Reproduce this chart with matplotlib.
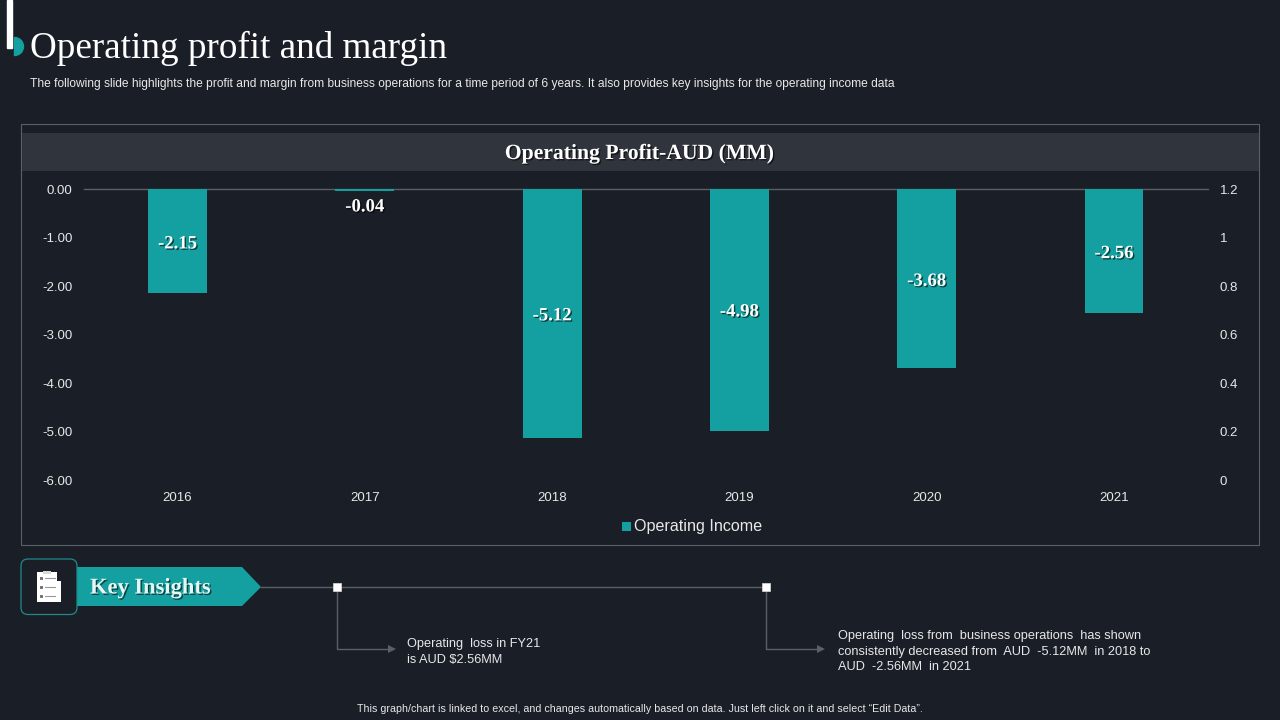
import numpy as np
import matplotlib
matplotlib.use("Agg")
import matplotlib.pyplot as plt
import matplotlib.patheffects as pe
from matplotlib.patches import Rectangle, Polygon, FancyBboxPatch, Wedge

years = ["2016", "2017", "2018", "2019", "2020", "2021"]
operating_income = [-2.15, -0.04, -5.12, -4.98, -3.68, -2.56]
left_ticks = [0, -1, -2, -3, -4, -5, -6]
right_ticks = [0, 0.2, 0.4, 0.6, 0.8, 1, 1.2]
right_labels = ["0", "0.2", "0.4", "0.6", "0.8", "1", "1.2"]
# label heights in value units, they sit mid bar on the slide
label_pos = [-1.13, -0.37, -2.61, -2.53, -1.90, -1.33]

BG = "#1a1e27"
TEAL = "#14a0a0"
LINE = "#5b5f66"
SANS = "Liberation Sans"
SERIF = "Liberation Serif"

W, H = 1280, 720
fig = plt.figure(figsize=(W / 100, H / 100), dpi=100, facecolor=BG)

# overlay in pixel coords for the slide furniture
bg = fig.add_axes([0, 0, 1, 1], zorder=0)
bg.set_xlim(0, W)
bg.set_ylim(H, 0)
bg.axis("off")

shadow = [pe.withSimplePatchShadow(offset=(1, -1), shadow_rgbFace="#000000", alpha=0.6)]

# title block
bg.add_patch(Rectangle((7, 0), 5, 48, color="white", zorder=3))
bg.add_patch(Wedge((14.5, 46.5), 9, -90, 90, color=TEAL, zorder=2))
bg.text(30, 48, "Operating profit and margin", color="white", fontsize=26.75,
        family=SERIF, va="center", ha="left")
bg.text(30, 83.5, "The following slide highlights the profit and margin from business operations "
        "for a time period of 6 years. It also provides key insights for the operating income data",
        color="#e8e8e8", fontsize=8.64, family=SANS, va="center", ha="left")

# chart frame and header band
bg.add_patch(Rectangle((21, 124), 1238, 421, fill=False, edgecolor=LINE, lw=0.8))
bg.add_patch(Rectangle((22, 133), 1237, 38, color="#2f343d", lw=0))
bg.text(639, 154, "Operating Profit-AUD (MM)", color="white", fontsize=15.6, weight="bold",
        family=SERIF, va="center", ha="center", path_effects=shadow)

# chart
ax = fig.add_axes([83.85 / W, 1 - 480.5 / H, 1123.8 / W, 291.5 / H], zorder=2)
ax.patch.set_alpha(0)
x = np.arange(len(years))
ax.bar(x, operating_income, width=0.315, color=TEAL, zorder=3)
ax.set_xlim(-0.5, 5.5)
ax.set_ylim(-6, 0)
ax.set_yticks(left_ticks)
ax.set_yticklabels([f"{v:.2f}" for v in left_ticks])
ax.set_xticks(x)
ax.set_xticklabels(years)
ax.tick_params(axis="both", length=0, colors="#e8e8e8", labelsize=9.5)
ax.tick_params(axis="y", pad=8)
ax.tick_params(axis="x", pad=8.5)
for lab in ax.get_xticklabels() + ax.get_yticklabels():
    lab.set_family(SANS)
for name, sp in ax.spines.items():
    sp.set_visible(name == "top")
# axis line goes under the bars so the thin 2017 bar still shows
ax.spines["top"].set_color(LINE)
ax.spines["top"].set_linewidth(1)
ax.spines["top"].set_zorder(1)

for xi, val, pos in zip(x, operating_income, label_pos):
    ax.text(xi, pos, f"{val:.2f}", color="white", fontsize=13.5, weight="bold", family=SERIF,
            ha="center", va="center", zorder=4, path_effects=shadow)

ax2 = ax.twinx()
ax2.set_ylim(0, 1.2)
ax2.set_yticks(right_ticks)
ax2.set_yticklabels(right_labels)
ax2.tick_params(axis="y", length=0, colors="#e8e8e8", labelsize=9.5, pad=8.6)
for lab in ax2.get_yticklabels():
    lab.set_family(SANS)
for sp in ax2.spines.values():
    sp.set_visible(False)

# legend
bg.add_patch(Rectangle((622, 522), 9, 9, color=TEAL, lw=0))
bg.text(634, 526, "Operating Income", color="#e8e8e8", fontsize=11.6, family=SANS, va="center", ha="left")

# key insights banner
bg.add_patch(Polygon([(77, 567), (242, 567), (261, 587), (242, 606), (77, 606)], color=TEAL, lw=0))
bg.add_patch(FancyBboxPatch((26, 564), 46, 45.5, boxstyle="round,pad=5,rounding_size=7",
                            facecolor=BG, edgecolor="#1f8a8c", lw=0.9, zorder=3))
bg.text(90, 588.5, "Key Insights", color="#e4f7f5", fontsize=16.2, weight="bold", family=SERIF,
        va="center", ha="left", path_effects=shadow)

# clipboard icon
bg.add_patch(Rectangle((57, 581), 4, 21, color="white", lw=0, zorder=4))
bg.add_patch(Rectangle((37, 572), 20, 30, color="white", lw=0, zorder=4))
bg.add_patch(Rectangle((43, 571), 8, 3, color="#d8d8d8", lw=0, zorder=5))
for yy in [578, 587, 596]:
    bg.add_patch(Rectangle((40, yy - 1.5), 3, 3, color="#777777", lw=0, zorder=5))
    bg.plot([45, 55], [yy, yy], color="#999999", lw=0.8, zorder=5)

# connector lines
bg.plot([261, 766], [587, 587], color=LINE, lw=1, zorder=1)
for mx in [337, 766]:
    bg.add_patch(Rectangle((mx - 4, 583), 8, 8, facecolor="white", edgecolor="#dddddd", lw=0.5, zorder=3))
bg.plot([337, 337, 390], [587, 649, 649], color=LINE, lw=1, zorder=1)
bg.plot([766, 766, 820], [587, 649, 649], color=LINE, lw=1, zorder=1)
for tip in [396, 825]:
    bg.add_patch(Polygon([(tip - 8, 645), (tip, 649), (tip - 8, 653)], color=LINE, lw=0))

# insight text
for yy, s in [(643.5, "Operating  loss in FY21"), (659.5, "is AUD $2.56MM")]:
    bg.text(407, yy, s, color="#e8e8e8", fontsize=9.23, family=SANS, va="center", ha="left")
for yy, s in [(635.5, "Operating  loss from  business operations  has shown"),
              (651.5, "consistently decreased from  AUD  -5.12MM  in 2018 to"),
              (667.5, "AUD  -2.56MM  in 2021")]:
    bg.text(838, yy, s, color="#e8e8e8", fontsize=9.23, family=SANS, va="center", ha="left")

# footer
bg.text(639.5, 708.5, "This graph/chart is linked to excel, and changes automatically based on data. "
        "Just left click on it and select \u201cEdit Data\u201d.",
        color="#e8e8e8", fontsize=7.66, family=SANS, va="center", ha="center")

fig.savefig("out.png", dpi=100, facecolor=BG)
